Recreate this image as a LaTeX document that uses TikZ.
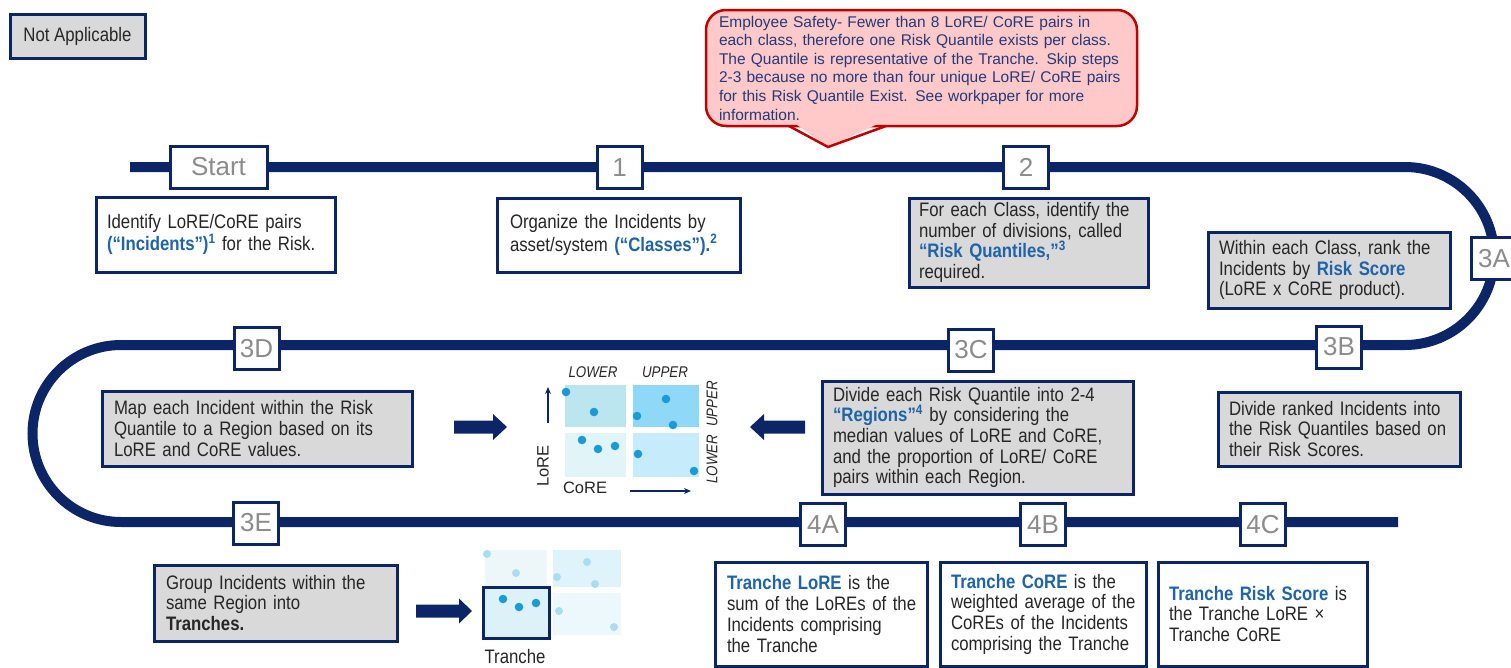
\documentclass[tikz,border=0pt]{standalone}
\usepackage{fontspec}
\setmainfont{Liberation Sans}
\newfontfamily\narrowfont{Liberation Sans}[FakeStretch=0.86]
\usetikzlibrary{arrows.meta}
\definecolor{navy}{HTML}{0B2566}
\definecolor{boxgray}{HTML}{D9D9D9}
\definecolor{txt}{HTML}{262626}
\definecolor{hlblue}{HTML}{1F63A8}
\definecolor{steptxt}{HTML}{8C8C8C}
\definecolor{calfill}{HTML}{FFC9C9}
\definecolor{calline}{HTML}{C00000}
\definecolor{caltxt}{HTML}{23397A}
\definecolor{dotc}{HTML}{1A9AD6}
\definecolor{dotfade}{HTML}{A9DDF2}
\definecolor{qa}{HTML}{BCE6EF}
\definecolor{qb}{HTML}{90D8F7}
\definecolor{qc}{HTML}{E1F4F8}
\definecolor{qd}{HTML}{C6ECFB}
\definecolor{fa}{HTML}{EDF7FA}
\definecolor{fb}{HTML}{DFF3FB}
\definecolor{fc}{HTML}{DDF2F8}
\definecolor{fd}{HTML}{ECF8FC}
\newcommand\BoxFont{\narrowfont\fontsize{19.5}{20.7}\selectfont}
\newcommand\StepFont{\fontsize{26}{28}\selectfont}
\newcommand\hl[1]{\textcolor{hlblue}{\textbf{#1}}}
\begin{document}
\begin{tikzpicture}[x=1pt,y=-1pt,
  track/.style={draw=navy,line width=10},
  stepbox/.style={draw=navy,line width=3,fill=white,text=steptxt,font=\StepFont,
    minimum width=45,minimum height=42,inner sep=0},
  wbox/.style={draw=navy,line width=3,fill=white,text=txt,font=\BoxFont,
    align=left,inner xsep=11,inner ysep=3},
  gbox/.style={wbox,fill=boxgray},
  chartlbl/.style={text=txt,font=\narrowfont\itshape\fontsize{15.5}{16}\selectfont,inner sep=0},
  axislbl/.style={text=txt,font=\fontsize{16.5}{17}\selectfont,inner sep=0},
  dotm/.style={fill=dotc},
  dotf/.style={fill=dotfade},
  block/.style={fill=navy}]
\useasboundingbox (0,0) rectangle (1511,667);

% track
\draw[track] (130,167) -- (1405,167) arc[start angle=-90,end angle=90,radius=89]
  -- (121,345) arc[start angle=270,end angle=90,radius=88.5] -- (1398,522);

% step labels
\node[stepbox,minimum width=97] (sStart) at (218.5,167) {Start};
\node[stepbox] (s1) at (619.5,167.5) {1};
\node[stepbox] (s2) at (1026,167.5) {2};
\node[stepbox] (s3A) at (1494,258.5) {3A};
\node[stepbox] (s3B) at (1339,347) {3B};
\node[stepbox] (s3C) at (971,350) {3C};
\node[stepbox] (s3D) at (256.5,348.5) {3D};
\node[stepbox] (s3E) at (256,523) {3E};
\node[stepbox] (s4A) at (823,524.5) {4A};
\node[stepbox] (s4B) at (1043,524.5) {4B};
\node[stepbox] (s4C) at (1263,524.5) {4C};

% not applicable
\node[gbox,align=center,minimum width=135,minimum height=44] (na) at (77.5,36) {Not Applicable};

% description boxes
\node[wbox,minimum width=239,minimum height=75,text width=217] (dStart) at (215.5,234.5)
  {Identify LoRE/CoRE pairs\\\hl{(“Incidents”)\textsuperscript{1}} for the Risk.};
\node[wbox,minimum width=243,minimum height=74,text width=217,inner xsep=13] (d1) at (618.5,235)
  {Organize the Incidents by\\asset/system \hl{(“Classes”).\textsuperscript{2}}};
\node[gbox,minimum width=239,minimum height=89,text width=219,inner xsep=10] (d2) at (1028.5,242.5)
  {For each Class, identify the\\number of divisions, called\\\hl{“Risk Quantiles,”\textsuperscript{3}}\\required.};
\node[gbox,minimum width=242,minimum height=76,text width=220] (d3A) at (1329,270)
  {Within each Class, rank the\\Incidents by \hl{Risk Score}\\(LoRE x CoRE product).};
\node[gbox,minimum width=242,minimum height=74,text width=220] (d3B) at (1339,429)
  {Divide ranked Incidents into\\the Risk Quantiles based on\\their Risk Scores.};
\node[gbox,minimum width=311,minimum height=113,text width=289] (d3C) at (977.5,437.5)
  {Divide each Risk Quantile into 2-4\\\hl{“Regions”\textsuperscript{4}} by considering the\\median values of LoRE and CoRE,\\and the proportion of LoRE/ CoRE\\pairs within each Region.};
\node[gbox,minimum width=310,minimum height=75,text width=286,inner xsep=12] (d3D) at (257,428.5)
  {Map each Incident within the Risk\\Quantile to a Region based on its\\LoRE and CoRE values.};
\node[gbox,minimum width=243,minimum height=76,text width=219,inner xsep=12] (d3E) at (275.5,603)
  {Group Incidents within the\\same Region into\\\textbf{Tranches.}};
\node[wbox,minimum width=212,minimum height=104,text width=188,inner xsep=12] (d4A) at (821,614)
  {\mbox{\hl{Tranche LoRE} is the}\\\mbox{sum of the LoREs of the}\\\mbox{Incidents comprising}\\\mbox{the Tranche}};
\node[wbox,minimum width=206,minimum height=104,text width=184] (d4B) at (1043,614)
  {\mbox{\hl{Tranche CoRE} is the}\\\mbox{weighted average of the}\\\mbox{CoREs of the Incidents}\\\mbox{comprising the Tranche}};
\node[wbox,minimum width=209,minimum height=104,text width=187] (d4C) at (1262.5,614)
  {\hl{Tranche Risk Score} is\\the Tranche LoRE ×\\Tranche CoRE};

% callout
\node[draw=calline,fill=calfill,line width=2.5,rounded corners=20,text=caltxt,
  font=\fontsize{15.5}{18.6}\selectfont,align=left,minimum width=431,minimum height=116,
  text width=405,inner xsep=13,inner ysep=2] (note) at (921.5,68)
  {Employee Safety- Fewer than 8 LoRE/ CoRE pairs in\\each class, therefore one Risk Quantile exists per class.\\The Quantile is representative of the Tranche. Skip steps\\2-3 because no more than four unique LoRE/ CoRE pairs\\for this Risk Quantile Exist. See workpaper for more\\information.};
\coordinate (ptip) at (828,147);
\fill[calfill] (793,122) -- (882,122) -- (ptip) -- cycle;
\draw[calline,line width=2.5,line join=miter] (789,126) -- (ptip) -- (886,126);

% block arrows
\fill[block] (454,420.5) -- (493,420.5) -- (493,414) -- (507,427) -- (493,440) -- (493,433.5) -- (454,433.5) -- cycle;
\fill[block] (805,420.5) -- (764,420.5) -- (764,414) -- (750,427) -- (764,440) -- (764,433.5) -- (805,433.5) -- cycle;
\fill[block] (416,604.5) -- (459,604.5) -- (459,598.5) -- (472,611) -- (459,623.5) -- (459,617.5) -- (416,617.5) -- cycle;

% quadrant chart
\fill[qa] (565,385) rectangle (626,427);
\fill[qb] (633,385) rectangle (699,427);
\fill[qc] (565,433) rectangle (626,477);
\fill[qd] (633,433) rectangle (699,477);
\foreach \p in {(566,392),(594,412),(666,399),(637,416),(673,425),(582,440),(598,449),(615,446),(638,454),(694,471)}
  \fill[dotm] \p circle[radius=4.3];
\node[chartlbl] (lowT) at (593,372) {LOWER};
\node[chartlbl] (upT) at (665,372) {UPPER};
\node[chartlbl,rotate=90] (upR) at (712,404) {UPPER};
\node[chartlbl,rotate=90] (lowR) at (712,459) {LOWER};
\node[axislbl,rotate=90] (lore) at (543,466) {LoRE};
\node[axislbl] (core) at (585,488) {CoRE};
\coordinate (upA) at (548,423); \coordinate (upB) at (548,387);
\coordinate (rtA) at (630,491); \coordinate (rtB) at (691,491);
\draw[navy,line width=1.3,-{Stealth[length=7,width=6]}] (upA) -- (upB);
\draw[navy,line width=1.3,-{Stealth[length=7,width=6]}] (rtA) -- (rtB);

% tranche chart
\fill[fa] (485,550) rectangle (547,586);
\fill[fb] (553,550) rectangle (621,587);
\fill[fd] (553,593) rectangle (621,635);
\foreach \p in {(487,554),(516,573),(587,562),(557,577),(595,584),(559,611),(614,627)}
  \fill[dotf] \p circle[radius=4];
\node[draw=navy,line width=3,fill=fc,minimum width=66,minimum height=51,inner sep=0] (tranche) at (516,612.5) {};
\foreach \p in {(503,599),(519,607),(536,603)}
  \fill[dotm] \p circle[radius=4.3];
\node[text=txt,font=\BoxFont,inner sep=0] (tlbl) at (515,657) {Tranche};
\end{tikzpicture}
\end{document}
